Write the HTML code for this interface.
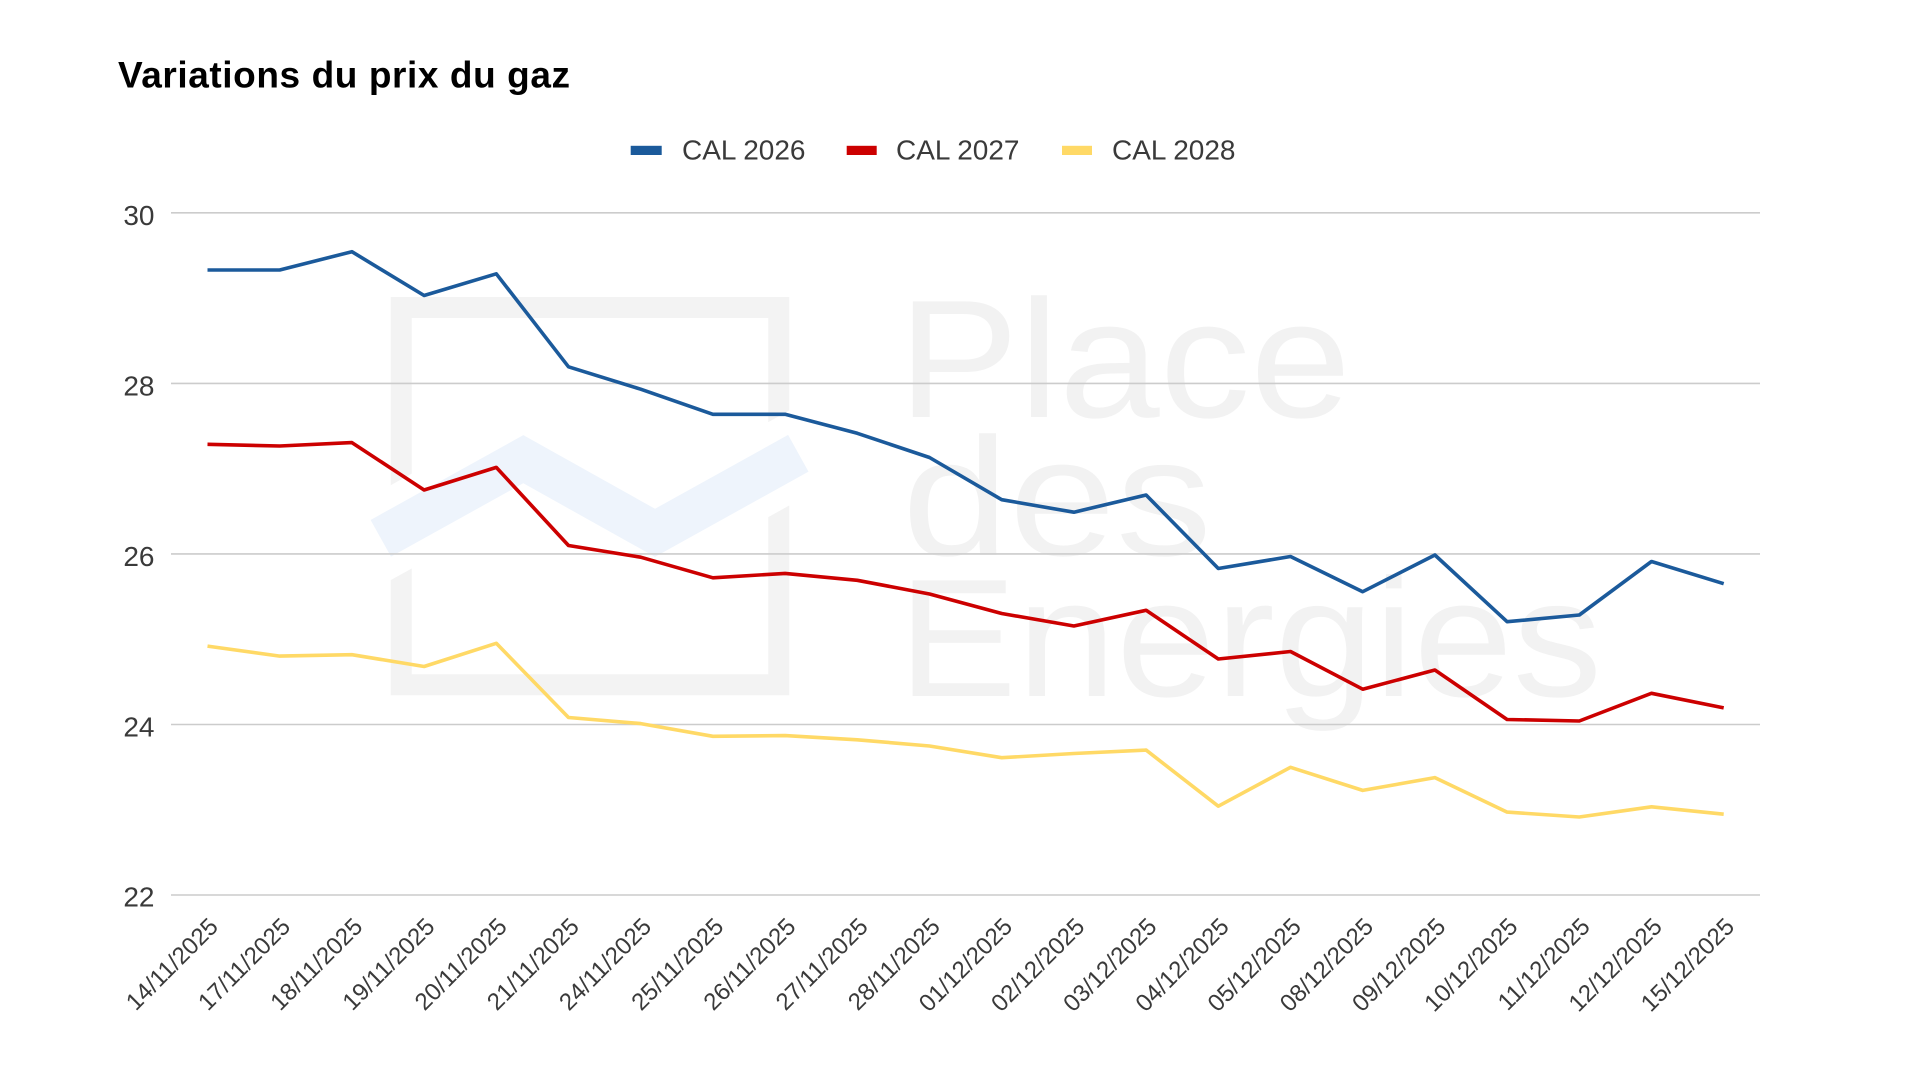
<!DOCTYPE html>
<html>
<head>
<meta charset="utf-8">
<style>
  html, body { margin: 0; padding: 0; background: #ffffff; }
  body { width: 1920px; height: 1080px; overflow: hidden; }
  svg { display: block; }
  text { font-family: "Liberation Sans", Arial, sans-serif; }
</style>
</head>
<body>
<svg width="1920" height="1080" viewBox="0 0 1920 1080" xmlns="http://www.w3.org/2000/svg">
  <rect x="0" y="0" width="1920" height="1080" fill="#ffffff"/>

  <!-- Watermark -->
  <rect x="401.2" y="307.5" width="377.5" height="377.2" fill="none" stroke="#f3f3f3" stroke-width="21"/>
  <polyline points="354,553 523.3,459.2 655,532.8 825,438" fill="none" stroke="#ffffff" stroke-width="83" stroke-linejoin="miter"/>
  <polyline points="380.8,538.3 523.3,459.2 655,532.8 798.3,453.3" fill="none" stroke="#eef4fc" stroke-width="42" stroke-linecap="butt" stroke-linejoin="miter"/>
  <g fill="#f2f2f2" font-size="168">
    <text x="898" y="417" textLength="453" lengthAdjust="spacingAndGlyphs">Place</text>
    <text x="902" y="555" textLength="310" lengthAdjust="spacingAndGlyphs">des</text>
    <text x="898" y="696" textLength="704" lengthAdjust="spacingAndGlyphs">Energies</text>
  </g>

  <!-- Title -->
  <text x="118" y="87.3" font-size="37" font-weight="bold" fill="#000000" textLength="452">Variations du prix du gaz</text>

  <!-- Legend -->
  <rect x="630.7" y="145.8" width="31" height="9.2" fill="#1b5a9b"/>
  <text x="682" y="159.3" font-size="28" fill="#3a3a3a">CAL 2026</text>
  <rect x="846.7" y="145.8" width="30" height="9.2" fill="#cc0000"/>
  <text x="896" y="159.3" font-size="28" fill="#3a3a3a">CAL 2027</text>
  <rect x="1062" y="145.8" width="30" height="9.2" fill="#ffd966"/>
  <text x="1112" y="159.3" font-size="28" fill="#3a3a3a">CAL 2028</text>

  <!-- Gridlines -->
  <g stroke="#cccccc" stroke-width="1.6">
    <line x1="171" y1="212.8" x2="1760" y2="212.8"/>
    <line x1="171" y1="383.4" x2="1760" y2="383.4"/>
    <line x1="171" y1="553.9" x2="1760" y2="553.9"/>
    <line x1="171" y1="724.5" x2="1760" y2="724.5"/>
    <line x1="171" y1="895" x2="1760" y2="895"/>
  </g>

  <!-- Y labels -->
  <g font-size="28" fill="#3a3a3a" text-anchor="end">
    <text x="154.5" y="225">30</text>
    <text x="154.5" y="395.5">28</text>
    <text x="154.5" y="566">26</text>
    <text x="154.5" y="736.5">24</text>
    <text x="154.5" y="906.5">22</text>
  </g>

  <!-- Series -->
  <g fill="none" stroke-width="3.6" stroke-linejoin="round" stroke-linecap="butt">
    <polyline stroke="#ffd966" points="207.5,646.1 279.7,656.1 351.9,654.7 424.1,666.5 496.3,643.3 568.5,717.5 640.7,723.6 712.9,736.3 785.1,735.6 857.3,739.8 929.5,746 1001.7,757.7 1073.9,753.5 1146.1,750.1 1218.3,806.2 1290.5,767.3 1362.7,790.4 1434.9,777.6 1507.1,812.1 1579.3,817 1651.5,806.8 1723.7,814.2"/>
    <polyline stroke="#cc0000" points="207.5,444.3 279.7,446 351.9,442.6 424.1,490 496.3,467.4 568.5,545.5 640.7,557.2 712.9,577.8 785.1,573.4 857.3,580.3 929.5,594 1001.7,613.5 1073.9,626 1146.1,610.3 1218.3,659 1290.5,651.5 1362.7,689.2 1434.9,670 1507.1,719.5 1579.3,721 1651.5,693.3 1723.7,707.9"/>
    <polyline stroke="#1b5a9b" points="207.5,270 279.7,270 351.9,251.7 424.1,295.5 496.3,273.8 568.5,366.8 640.7,389.2 712.9,414.3 785.1,414.3 857.3,433.3 929.5,457.5 1001.7,499.7 1073.9,512.2 1146.1,495 1218.3,568.5 1290.5,556.5 1362.7,591.7 1434.9,555 1507.1,621.7 1579.3,615 1651.5,561.5 1723.7,583.7"/>
  </g>

  <!-- X labels -->
  <g font-size="24" fill="#3a3a3a" text-anchor="end">
    <text x="219.5" y="928" transform="rotate(-45 219.5 928)">14/11/2025</text>
    <text x="291.7" y="928" transform="rotate(-45 291.7 928)">17/11/2025</text>
    <text x="363.9" y="928" transform="rotate(-45 363.9 928)">18/11/2025</text>
    <text x="436.1" y="928" transform="rotate(-45 436.1 928)">19/11/2025</text>
    <text x="508.3" y="928" transform="rotate(-45 508.3 928)">20/11/2025</text>
    <text x="580.5" y="928" transform="rotate(-45 580.5 928)">21/11/2025</text>
    <text x="652.7" y="928" transform="rotate(-45 652.7 928)">24/11/2025</text>
    <text x="724.9" y="928" transform="rotate(-45 724.9 928)">25/11/2025</text>
    <text x="797.1" y="928" transform="rotate(-45 797.1 928)">26/11/2025</text>
    <text x="869.3" y="928" transform="rotate(-45 869.3 928)">27/11/2025</text>
    <text x="941.5" y="928" transform="rotate(-45 941.5 928)">28/11/2025</text>
    <text x="1013.7" y="928" transform="rotate(-45 1013.7 928)">01/12/2025</text>
    <text x="1085.9" y="928" transform="rotate(-45 1085.9 928)">02/12/2025</text>
    <text x="1158.1" y="928" transform="rotate(-45 1158.1 928)">03/12/2025</text>
    <text x="1230.3" y="928" transform="rotate(-45 1230.3 928)">04/12/2025</text>
    <text x="1302.5" y="928" transform="rotate(-45 1302.5 928)">05/12/2025</text>
    <text x="1374.7" y="928" transform="rotate(-45 1374.7 928)">08/12/2025</text>
    <text x="1446.9" y="928" transform="rotate(-45 1446.9 928)">09/12/2025</text>
    <text x="1519.1" y="928" transform="rotate(-45 1519.1 928)">10/12/2025</text>
    <text x="1591.3" y="928" transform="rotate(-45 1591.3 928)">11/12/2025</text>
    <text x="1663.5" y="928" transform="rotate(-45 1663.5 928)">12/12/2025</text>
    <text x="1735.7" y="928" transform="rotate(-45 1735.7 928)">15/12/2025</text>
  </g>
</svg>
</body>
</html>
